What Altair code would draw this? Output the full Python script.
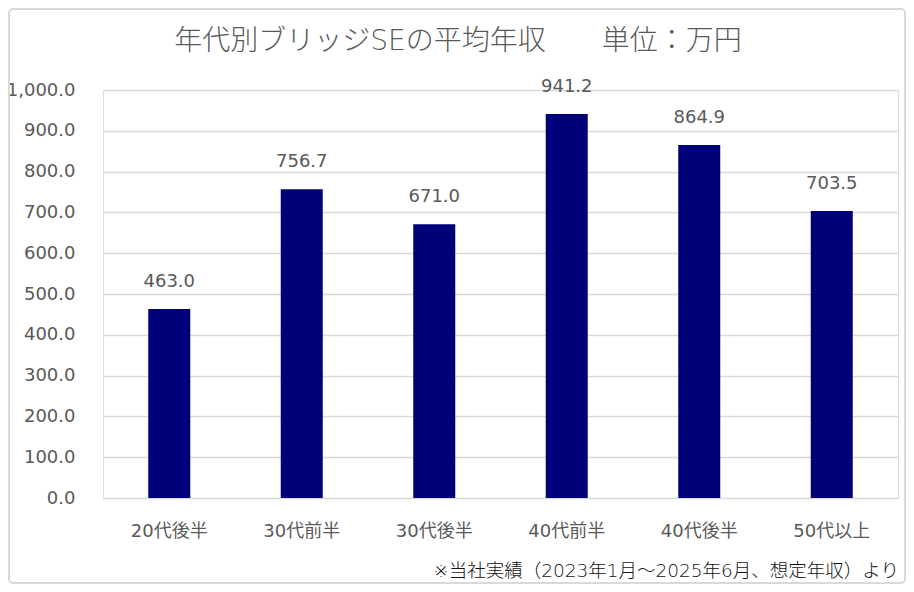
import altair as alt
import pandas as pd

categories = ["20代後半", "30代前半", "30代後半", "40代前半", "40代後半", "50代以上"]
values = [463.0, 756.7, 671.0, 941.2, 864.9, 703.5]
labels = ["463.0", "756.7", "671.0", "941.2", "864.9", "703.5"]
y_ticks = [0, 100, 200, 300, 400, 500, 600, 700, 800, 900, 1000]
title_text = "年代別ブリッジSEの平均年収　　単位：万円"
footnote_text = "※当社実績（2023年1月～2025年6月、想定年収）より"

FONT = "DejaVu Sans, Noto Sans CJK JP"
GRAY = "#595959"
GRID = "#d9d9d9"
BAR = "#000078"

W, H = 795, 408
PL, PT, PR, PB = 95, 82, 8, 86

df = pd.DataFrame({"cat": categories, "val": values, "label": labels})

x_enc = alt.X(
    "cat:N", sort=categories, title=None,
    scale=alt.Scale(paddingInner=0.683, paddingOuter=0.3415),
    axis=alt.Axis(labelAngle=0, labelFontSize=18, labelColor=GRAY, labelFont=FONT,
                  labelPadding=24, ticks=False, domain=False, grid=False),
)
y_enc = alt.Y(
    "val:Q", title=None, scale=alt.Scale(domain=[0, 1000], nice=False),
    axis=alt.Axis(values=y_ticks, format=",.1f", labelFontSize=18, labelColor=GRAY,
                  labelFont=FONT, labelPadding=28, ticks=False, domain=False,
                  grid=True, gridColor=GRID, gridWidth=1.5),
)

base = alt.Chart(df)
bars = base.mark_bar(color=BAR).encode(x=x_enc, y=y_enc)
text = base.mark_text(dy=-22, baseline="alphabetic", fontSize=18, color=GRAY, font=FONT).encode(
    x=alt.X("cat:N", sort=categories), y="val:Q", text="label:N"
)

title = alt.Chart(alt.Data(values=[{"t": title_text}])).mark_text(
    align="center", baseline="alphabetic", fontSize=28, color=GRAY, font=FONT, fontWeight=300
).encode(x=alt.value(355), y=alt.value(-40), text="t:N")

footnote = alt.Chart(alt.Data(values=[{"t": footnote_text}])).mark_text(
    align="right", baseline="alphabetic", fontSize=18.5, color="#111111", font=FONT, fontWeight=300
).encode(x=alt.value(W + 1), y=alt.value(487), text="t:N")

border = alt.Chart(alt.Data(values=[{"b": 1}])).mark_rect(
    fill="transparent", stroke=GRID, strokeWidth=2, cornerRadius=4
).encode(x=alt.value(-PL + 1), x2=alt.value(W + PR - 1), y=alt.value(-PT + 1), y2=alt.value(H + PB - 1))

chart = alt.layer(border, bars, text, title, footnote).properties(
    width=W, height=H,
    padding={"left": PL, "top": PT, "right": PR, "bottom": PB},
    autosize=alt.AutoSizeParams(type="none"),
).configure_view(stroke=None).configure(background="white")

chart.save("out.html", embed_options={"renderer": "svg", "actions": False})
